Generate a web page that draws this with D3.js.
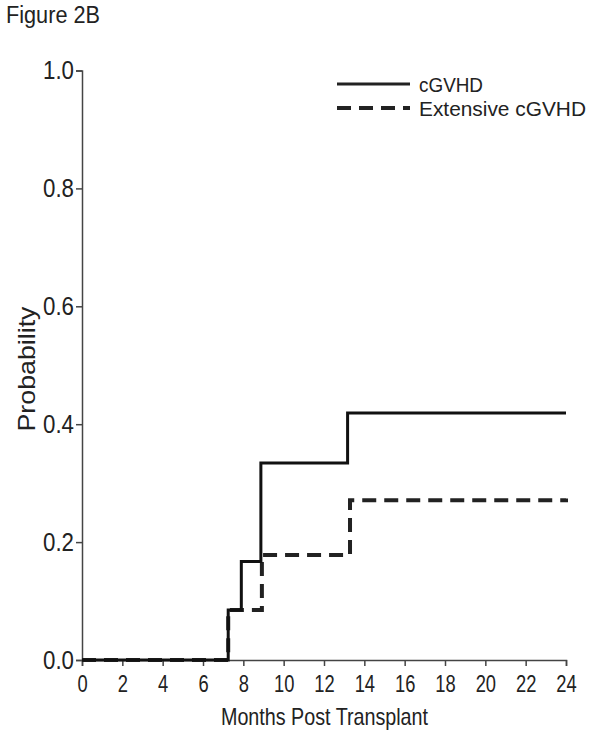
<!DOCTYPE html>
<html>
<head>
<meta charset="utf-8">
<script src="https://cdn.jsdelivr.net/npm/d3@7"></script>
<style>
  body { margin: 0; background: #fff; }
  text { font-family: Arial, "Liberation Sans", sans-serif; fill: #222; }
</style>
</head>
<body>
<div id="chart"></div>
<script>
// step points (months, probability)
const cgvhdMonths = [0, 7.25, 7.9, 8.87, 13.17, 24];
const cgvhdProb = [0, 0.085, 0.167, 0.334, 0.419, 0.419];
const extMonths = [0, 7.25, 8.92, 13.29, 24];
const extProb = [0, 0.085, 0.178, 0.271, 0.274];

const xTicks = [0, 2, 4, 6, 8, 10, 12, 14, 16, 18, 20, 22, 24];
const yTicks = [0, 0.2, 0.4, 0.6, 0.8, 1.0];
const seriesNames = ["cGVHD", "Extensive cGVHD"];

const width = 601, height = 736;

const svg = d3.select("#chart").append("svg")
    .attr("width", width)
    .attr("height", height);

const x = d3.scaleLinear().domain([0, 24]).range([82, 566]);
const y = d3.scaleLinear().domain([0, 1]).range([660, 70.5]);

svg.append("text")
    .attr("x", 6).attr("y", 23)
    .style("font-size", "23px")
    .attr("textLength", 94).attr("lengthAdjust", "spacingAndGlyphs")
    .text("Figure 2B");

// axes
const xAxis = svg.append("g")
    .attr("transform", "translate(0," + y(0) + ")")
    .call(d3.axisBottom(x).tickValues(xTicks).tickSize(6).tickSizeOuter(6).tickPadding(10)
        .tickFormat(d3.format("d")));
xAxis.selectAll("text")
    .style("font-size", "23px")
    .attr("textLength", d => String(d).length * 10.2)
    .attr("lengthAdjust", "spacingAndGlyphs");

const yAxis = svg.append("g")
    .attr("transform", "translate(" + x(0) + ",0)")
    .call(d3.axisLeft(y).tickValues(yTicks).tickSize(6).tickSizeOuter(6).tickPadding(2)
        .tickFormat(d3.format(".1f")));
yAxis.selectAll("text")
    .style("font-size", "25px")
    .attr("textLength", 31)
    .attr("lengthAdjust", "spacingAndGlyphs");

svg.selectAll(".domain, .tick line").attr("stroke", "#444").attr("stroke-width", 1.5);

svg.append("text")
    .attr("transform", "translate(35,369) rotate(-90)")
    .attr("text-anchor", "middle")
    .style("font-size", "24px")
    .attr("textLength", 125).attr("lengthAdjust", "spacingAndGlyphs")
    .text("Probability");

svg.append("text")
    .attr("x", 324.5).attr("y", 725)
    .attr("text-anchor", "middle")
    .style("font-size", "24px")
    .attr("textLength", 207).attr("lengthAdjust", "spacingAndGlyphs")
    .text("Months Post Transplant");

// curves
const line = d3.line()
    .x(d => x(d[0]))
    .y(d => y(d[1]))
    .curve(d3.curveStepAfter);

svg.append("path")
    .datum(d3.zip(extMonths, extProb))
    .attr("d", line)
    .attr("fill", "none")
    .attr("stroke", "#222")
    .attr("stroke-width", 4)
    .attr("stroke-dasharray", "14,8");

svg.append("path")
    .datum(d3.zip(cgvhdMonths, cgvhdProb))
    .attr("d", line)
    .attr("fill", "none")
    .attr("stroke", "#111")
    .attr("stroke-width", 3);

// legend
const legend = svg.append("g");
seriesNames.forEach((name, i) => {
    const ly = 84 + i * 24;
    legend.append("line")
        .attr("x1", 337).attr("x2", 410)
        .attr("y1", ly).attr("y2", ly)
        .attr("stroke", "#222")
        .attr("stroke-width", i === 0 ? 3 : 4)
        .attr("stroke-dasharray", i === 0 ? null : "14,8");
    legend.append("text")
        .attr("x", 419).attr("y", ly + 8)
        .style("font-size", "21px")
        .attr("textLength", i === 0 ? 64 : 167).attr("lengthAdjust", "spacingAndGlyphs")
        .text(name);
});
</script>
</body>
</html>
